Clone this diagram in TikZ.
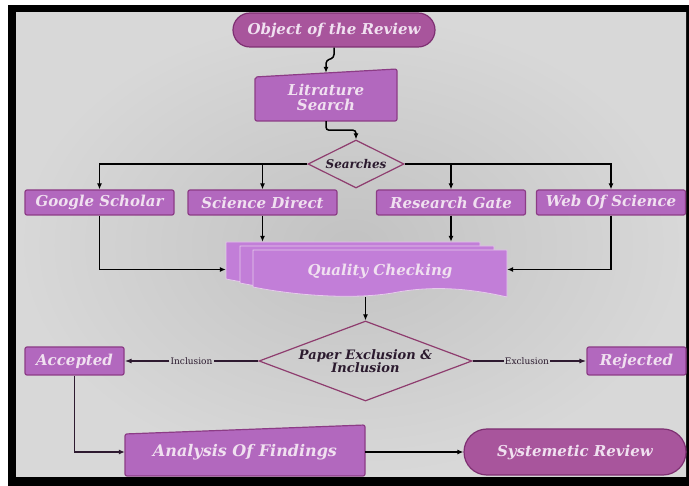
\documentclass[tikz,border=0pt]{standalone}
\usepackage{fontspec}
\newfontfamily\boxfont{DejaVu Serif}
\usetikzlibrary{shapes.geometric,shapes.misc,arrows.meta}

\definecolor{boxfill}{RGB}{178,104,190}
\definecolor{boxedge}{RGB}{140,60,134}
\definecolor{termfill}{RGB}{168,85,156}
\definecolor{termedge}{RGB}{126,48,114}
\definecolor{qcfill}{RGB}{194,126,216}
\definecolor{qcedge}{RGB}{230,203,235}
\definecolor{txtpink}{RGB}{240,224,240}
\definecolor{darktxt}{RGB}{43,26,46}
\definecolor{diaedge}{RGB}{142,60,110}
\definecolor{seldark}{RGB}{46,26,48}
\definecolor{bgmid}{RGB}{194,194,194}
\definecolor{bgedge}{RGB}{216,216,216}

\begin{document}
\begin{tikzpicture}[x=1pt,y=-1pt]
% Flowchart style
\tikzset{
    ttl/.style={font=\boxfont\bfseries\itshape\fontsize{15}{15}\selectfont, text=txtpink, align=center},
    srcbox/.style={ttl, rectangle, rounded corners=2, draw=boxedge, line width=1.2, fill=boxfill,
        minimum width=149, minimum height=25, inner sep=0},
    endbox/.style={srcbox, minimum width=99, minimum height=28},
    term/.style={ttl, rounded rectangle, draw=termedge, line width=1.2, fill=termfill, inner sep=0},
    deci/.style={diamond, draw=diaedge, line width=1.2, inner sep=0, text=darktxt, align=center,
        font=\boxfont\bfseries\itshape\fontsize{13}{13}\selectfont},
    hold/.style={rectangle, inner sep=0},
    flow/.style={draw=black, line width=1.5, -{Latex[length=6pt,width=5pt]}},
    sel/.style={draw=seldark, line width=2},
    tag/.style={font=\boxfont\fontsize{9}{9}\selectfont, text=darktxt, inner sep=1}
}
% Frame
\fill[white] (0,0) rectangle (689,486);
\fill[black] (8,5) rectangle (689,486);
\shade[inner color=bgmid, outer color=bgedge] (16,13) rectangle (686,477);

% Top
\node[term, minimum width=202, minimum height=34] (obj) at (334,30) {Object of the Review};
\filldraw[fill=boxfill, draw=boxedge, line width=1.2, rounded corners=2]
    (255,77) -- (397,69) -- (397,121) -- (255,121) -- cycle;
\node[hold, ttl] (lit) at (326,97) [minimum width=142, minimum height=48] {Litrature\\Search};
\node[deci, aspect=2, minimum width=96, minimum height=48,
    font=\boxfont\bfseries\itshape\fontsize{12}{12}\selectfont] (srch) at (356,164) {Searches};
\draw[flow, rounded corners=3] (obj.south) -- ++(0,10) -- ++(-8,3) -- (lit.north);
\draw[flow, rounded corners=3] (lit.south) |- ++(30,9) -- (srch.north);

% Sources
\node[srcbox] (gs) at (99.5,202.5) {Google Scholar};
\node[srcbox] (sd) at (262.5,202.5) {Science Direct};
\node[srcbox] (rg) at (451,202.5) {Research Gate};
\node[srcbox] (ws) at (611,202.5) {Web Of Science};
\draw[flow] (srch.west) -| (gs.north);
\draw[flow] (srch.west) -| (sd.north);
\draw[flow] (srch.east) -| (rg.north);
\draw[flow] (srch.east) -| (ws.north);

% Quality checking
\foreach \dx/\dy in {226/242, 240/246, 253/250}
    \filldraw[fill=qcfill, draw=qcedge, line width=0.8, shift={(\dx,\dy)}]
        (0,0) -- (254,0) -- (254,47) .. controls (215,38) and (180,36) .. (145,42)
        .. controls (105,50) and (45,46) .. (0,37) -- cycle;
\node[hold, minimum width=281, minimum height=55] (qcstack) at (366.5,269.5) {};
\node[ttl] (qc) at (380,271) {Quality Checking};
\draw[flow] (gs.south) |- (qcstack.west);
\draw[flow] (ws.south) |- (qcstack.east);
\draw[flow] (sd.south) -- (sd.south |- qcstack.north);
\draw[flow] (rg.south) -- (rg.south |- qcstack.north);

% Selection
\node[deci, aspect=2.66, minimum width=213, minimum height=80] (pe) at (365.5,361)
    {Paper Exclusion \&\\Inclusion};
\draw[flow] (pe.north |- qcstack.south) -- (pe.north);
\node[endbox] (acc) at (74.5,361) {Accepted};
\node[endbox] (rej) at (636.5,361) {Rejected};
\node[tag] (incl) at (191.5,361) {Inclusion};
\node[tag] (excl) at (527,361) {Exclusion};
\draw[sel] (pe.west) -- (incl.east);
\draw[sel, -{Latex[length=7pt,width=5pt]}] (incl.west) -- (acc.east);
\draw[sel] (pe.east) -- (excl.west);
\draw[sel, -{Latex[length=7pt,width=5pt]}] (excl.east) -- (rej.west);

% Bottom
\filldraw[fill=boxfill, draw=boxedge, line width=1.2, rounded corners=2]
    (125,434) -- (365,425) -- (365,476) -- (125,476) -- cycle;
\node[hold, ttl, font=\boxfont\bfseries\itshape\fontsize{16}{16}\selectfont,
    minimum width=240, minimum height=48] (ana) at (245,452) {Analysis Of Findings};
\node[term, minimum width=222, minimum height=46] (sys) at (575,452) {Systemetic Review};
\draw[flow, draw=seldark] (acc.south) |- (ana.west);
\draw[flow] (ana.east) -- (sys.west);
\end{tikzpicture}
\end{document}
